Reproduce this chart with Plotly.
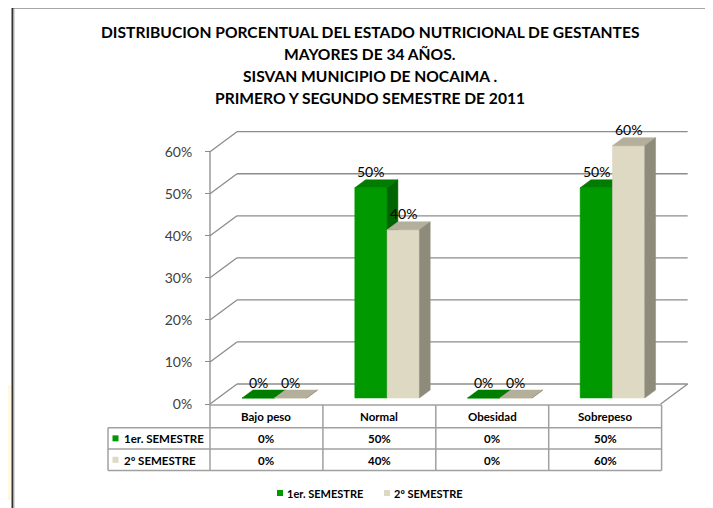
import plotly.graph_objects as go

# ---------------- data ----------------
categories = ["Bajo peso", "Normal", "Obesidad", "Sobrepeso"]
series_names = ["1er. SEMESTRE", "2º SEMESTRE"]
sem1 = [0, 50, 0, 50]
sem2 = [0, 40, 0, 60]
y_ticks = [0, 10, 20, 30, 40, 50, 60]
y_tick_labels = ["0%", "10%", "20%", "30%", "40%", "50%", "60%"]
title_lines = [
    "DISTRIBUCION PORCENTUAL DEL ESTADO NUTRICIONAL DE GESTANTES",
    "MAYORES DE 34 AÑOS.",
    "SISVAN MUNICIPIO DE NOCAIMA .",
    "PRIMERO Y SEGUNDO SEMESTRE DE 2011",
]

# ---------------- geometry / style ----------------
OFF = 8                      # page body margin
W, H = 713 - OFF, 508 - OFF  # figure size
PXC = 112.67     # pixels per category unit
PXP = 4.205      # pixels per percent
X0P, Y0P = 210 - OFF, 404 - OFF
DDX = 27 / PXC   # depth offset in x (data units)
DDY = 20 / PXP   # depth offset in y (data units)
F1, F2 = 0.3, 0.7
BW = 0.2867      # bar width in category units

FACE = {
    0: dict(front="#009900", top="#007C00", side="#006400"),
    1: dict(front="#DDD9C3", top="#B3AF9B", side="#8F8B7A"),
}
GRID = "#8C8C8C"
FONT = "Lato"

def px(p):   # screen pixel x -> paper
    return (p - OFF) / W

def py(p):   # screen pixel y -> paper
    return 1 - (p - OFF) / H

xr = [-0.5 - X0P / PXC, -0.5 + (W - X0P) / PXC]
yr = [-(H - Y0P) / PXP, Y0P / PXP]

fig = go.Figure()

# ---------------- 3D bars ----------------
series = [sem1, sem2]
for j, vals in enumerate(series):
    fx, fy, tx, ty, sx, sy = [], [], [], [], [], []
    for i, v in enumerate(vals):
        xl = i - BW + j * BW + F1 * DDX
        xr_ = xl + BW
        yb = F1 * DDY
        yt = v + F1 * DDY
        dx = (F2 - F1) * DDX
        dy = (F2 - F1) * DDY
        fx += [xl, xr_, xr_, xl, xl, None]
        fy += [yb, yb, yt, yt, yb, None]
        tx += [xl, xr_, xr_ + dx, xl + dx, xl, None]
        ty += [yt, yt, yt + dy, yt + dy, yt, None]
        sx += [xr_, xr_ + dx, xr_ + dx, xr_, xr_, None]
        sy += [yb, yb + dy, yt + dy, yt, yb, None]
    for xs, ys, key in ((fx, fy, "front"), (tx, ty, "top"), (sx, sy, "side")):
        fig.add_trace(go.Scatter(
            x=xs, y=ys, mode="lines", fill="toself",
            fillcolor=FACE[j][key], line=dict(width=0.5, color=FACE[j][key]),
            hoverinfo="skip", showlegend=False, name=series_names[j]))

# data labels
for j, vals in enumerate(series):
    for i, v in enumerate(vals):
        xc = i - BW + j * BW + BW / 2 + F1 * DDX
        fig.add_annotation(x=xc, y=v + F1 * DDY + 16 / PXP, xref="x", yref="y",
                           text=f"{v}%", showarrow=False,
                           font=dict(family=FONT, size=14, color="#000000"),
                           xanchor="center", yanchor="middle")

# ---------------- walls / gridlines ----------------
shapes = []
for v in y_ticks:
    shapes.append(dict(type="line", xref="x", yref="y", x0=-0.5, y0=v,
                       x1=-0.5 + DDX, y1=v + DDY, line=dict(color=GRID, width=1.3), layer="below"))
    shapes.append(dict(type="line", xref="x", yref="y", x0=-0.5 + DDX, y0=v + DDY,
                       x1=3.5 + DDX, y1=v + DDY, line=dict(color=GRID, width=1.3), layer="below"))
# front axis
shapes.append(dict(type="line", xref="x", yref="y", x0=-0.5, y0=0, x1=-0.5, y1=y_ticks[-1],
                   line=dict(color=GRID, width=1.3), layer="below"))
# floor right diagonal
shapes.append(dict(type="line", xref="x", yref="y", x0=3.5, y0=0, x1=3.5 + DDX, y1=DDY,
                   line=dict(color=GRID, width=1.3), layer="below"))

# ---------------- data table ----------------
TL = "#A0A0A0"
col_edges = [210 + k * 112.9 for k in range(5)]
row_edges = [405, 427.7, 449, 470.5]
label_left = 108
def hline(y, x0, x1):
    shapes.append(dict(type="line", xref="paper", yref="paper", x0=px(x0), x1=px(x1),
                       y0=py(y), y1=py(y), line=dict(color=TL, width=1.5)))
def vline(x, y0, y1):
    shapes.append(dict(type="line", xref="paper", yref="paper", x0=px(x), x1=px(x),
                       y0=py(y0), y1=py(y1), line=dict(color=TL, width=1.5)))
hline(row_edges[0], col_edges[0], col_edges[-1])
for r in row_edges[1:]:
    hline(r, label_left, col_edges[-1])
vline(label_left, row_edges[1], row_edges[-1])
for c in col_edges:
    vline(c, row_edges[0], row_edges[-1])

annotations_font = dict(family=FONT, size=11.5, color="#000000")
for k, cat in enumerate(categories):
    cx = (col_edges[k] + col_edges[k + 1]) / 2
    fig.add_annotation(x=px(cx), y=py((row_edges[0] + row_edges[1]) / 2 + 0.5), xref="paper", yref="paper",
                       text=f"<b>{cat}</b>", showarrow=False, font=annotations_font,
                       xanchor="center", yanchor="middle")
    for j, vals in enumerate(series):
        cy = (row_edges[j + 1] + row_edges[j + 2]) / 2 + 0.5
        fig.add_annotation(x=px(cx), y=py(cy), xref="paper", yref="paper",
                           text=f"<b>{vals[k]}%</b>", showarrow=False, font=annotations_font,
                           xanchor="center", yanchor="middle")
for j, name in enumerate(series_names):
    cy = (row_edges[j + 1] + row_edges[j + 2]) / 2
    shapes.append(dict(type="rect", xref="paper", yref="paper", x0=px(112.5), x1=px(118.5),
                       y0=py(cy - 3), y1=py(cy + 3), fillcolor=FACE[j]["front"], line=dict(width=0)))
    fig.add_annotation(x=px(122), y=py(cy + 0.5), xref="paper", yref="paper",
                       text=f"<b>{name}</b>", showarrow=False, font=annotations_font,
                       xanchor="left", yanchor="middle")

# ---------------- legend (bottom) ----------------
leg_x = [277, 384]
for j, name in enumerate(series_names):
    shapes.append(dict(type="rect", xref="paper", yref="paper", x0=px(leg_x[j]), x1=px(leg_x[j] + 6),
                       y0=py(496), y1=py(490), fillcolor=FACE[j]["front"], line=dict(width=0)))
    fig.add_annotation(x=px(leg_x[j] + 8), y=py(493.5), xref="paper", yref="paper",
                       text=f"<b>{name}</b>", showarrow=False, font=dict(family=FONT, size=11, color="#000000"),
                       xanchor="left", yanchor="middle")

# ---------------- title ----------------
for k, line in enumerate(title_lines):
    fig.add_annotation(x=px(370), y=py(32 + k * 22), xref="paper", yref="paper",
                       text=f"<b>{line}</b>", showarrow=False,
                       font=dict(family=FONT, size=15.6, color="#000000"),
                       xanchor="center", yanchor="middle")

# ---------------- frame ----------------
shapes.append(dict(type="rect", xref="paper", yref="paper", x0=0, x1=px(11.5), y0=py(500), y1=py(385),
                   fillcolor="rgba(255,238,170,0.35)", line=dict(width=0), layer="below"))
shapes.append(dict(type="line", xref="paper", yref="paper", x0=px(13), x1=1, y0=py(8), y1=py(8),
                   line=dict(color="#8A8A8A", width=1.5)))
shapes.append(dict(type="line", xref="paper", yref="paper", x0=px(12.5), x1=px(12.5), y0=py(8), y1=0,
                   line=dict(color="#333333", width=2)))
shapes.append(dict(type="line", xref="paper", yref="paper", x0=px(14.2), x1=px(14.2), y0=py(9), y1=0,
                   line=dict(color="#C8C8C8", width=1)))

fig.update_layout(
    width=W, height=H,
    margin=dict(l=0, r=0, t=0, b=0),
    paper_bgcolor="white", plot_bgcolor="white",
    showlegend=False,
    shapes=shapes,
    xaxis=dict(range=xr, visible=False, fixedrange=True),
    yaxis=dict(range=yr, anchor="free", position=X0P / W, showgrid=False, zeroline=False,
               showline=False, tickmode="array", tickvals=y_ticks, ticktext=y_tick_labels,
               ticks="outside", ticklen=5, tickcolor=GRID, tickwidth=1.3,
               ticklabelstandoff=10, automargin=False,
               tickfont=dict(family=FONT, size=14, color="#404040"), fixedrange=True),
)

fig.write_html("out.html")
